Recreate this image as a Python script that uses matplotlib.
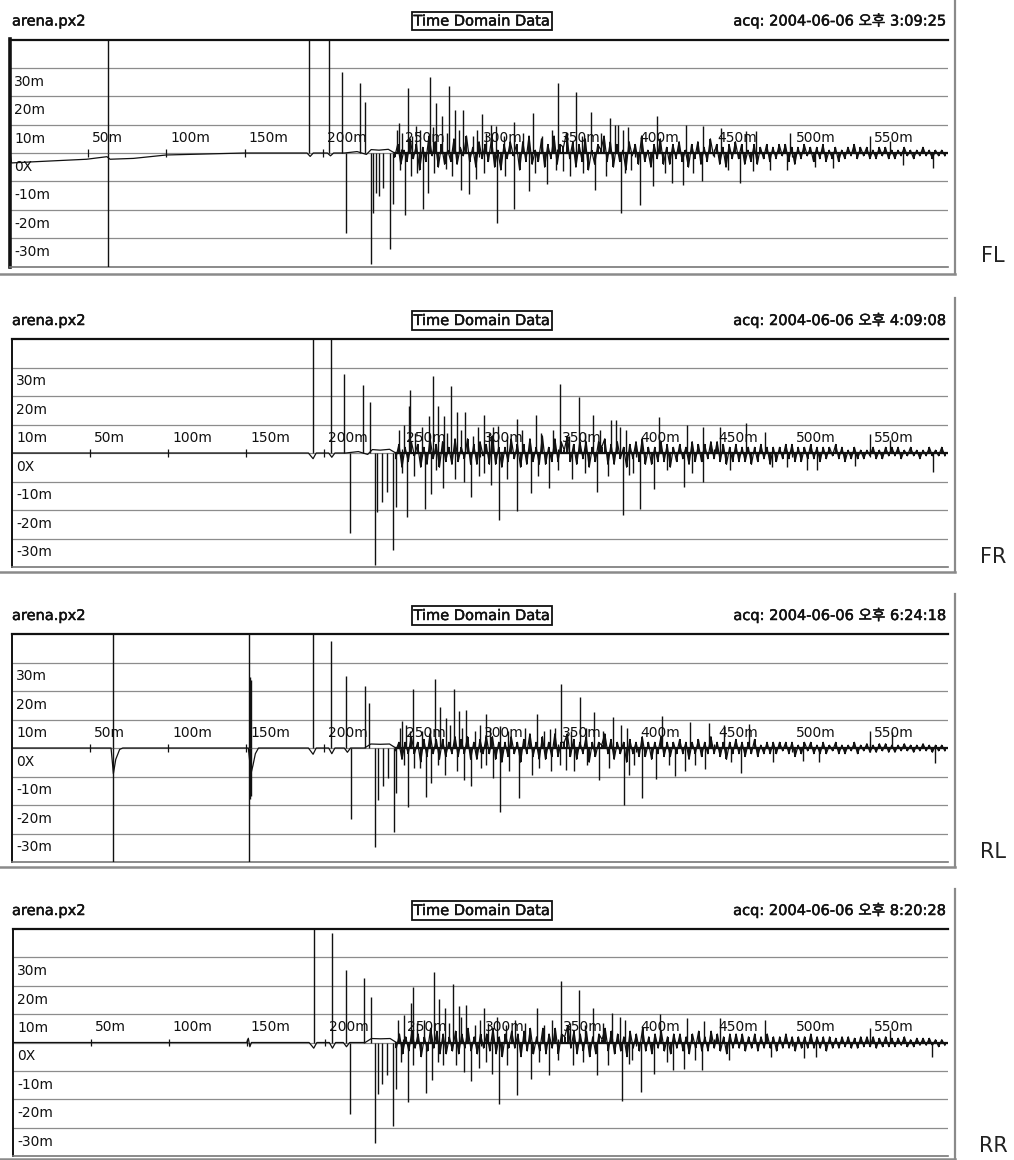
import numpy as np
import matplotlib
matplotlib.use("Agg")
import matplotlib.pyplot as plt
import matplotlib.patheffects as pe

plt.rcParams['font.family'] = ['DejaVu Sans', 'Noto Sans CJK KR']

# ---------------------------------------------------------------- data (ms, mV)
channels = ["FL", "FR", "RL", "RR"]
file_name = "arena.px2"
view_title = "Time Domain Data"
acq_stamps = ["acq: 2004-06-06 오후 3:09:25",
              "acq: 2004-06-06 오후 4:09:08",
              "acq: 2004-06-06 오후 6:24:18",
              "acq: 2004-06-06 오후 8:20:28"]

y_grid_mv = [30, 20, 10, 0, -10, -20, -30]
y_tick_labels = ["30m", "20m", "10m", "0X", "-10m", "-20m", "-30m"]
x_tick_ms = [50, 100, 150, 200, 250, 300, 350, 400, 450, 500, 550]
x_tick_labels = ["50m", "100m", "150m", "200m", "250m", "300m",
                 "350m", "400m", "450m", "500m", "550m"]

# quiet lead-in of each trace, before the reverberant tail
fl_base_ms = [0, 1, 15, 49, 62, 64, 79, 100, 126, 150, 190, 192, 194, 203, 205, 207,
              214, 222, 228, 231, 236, 242, 246]
fl_base_mv = [0, -3.5, -3.1, -2.2, -1.3, -2.2, -1.9, -0.7, -0.35, 0, 0, -1.2, 0, 0, -1.0, 0,
              0, 0.5, -0.5, 1.2, 1.0, 1.3, 0]
fr_base_ms = [0, 190, 193, 195, 203, 205, 207, 214, 222, 228, 231, 236, 242, 246]
fr_base_mv = [0, 0, -2.0, 0, 0, -1.5, 0, 0, 0.5, -0.5, 1.2, 1.0, 1.3, 0]
rl_base_ms = [0, 63.5, 65.0, 66.5, 69, 71, 151.5, 153.2, 154.5, 156, 158, 190, 193, 195,
              203, 205, 207, 213, 215, 217, 226, 230, 236, 242, 246]
rl_base_mv = [0, 0, -9, -4, -0.5, 0, 0, -9, -6, -2, 0, 0, -2.2, 0,
              0, -2, 0, 0, -1.5, 0, 0, 1.4, 1.3, 1.4, 0]
rr_base_ms = [0, 150, 151, 152, 153, 190, 193, 195, 203, 205, 207, 212, 214, 216,
              226, 230, 236, 242, 246]
rr_base_mv = [0, 0, 1.5, -1.5, 0, 0, -2.0, 0, 0, -2.0, 0, 0, -1.5, 0,
              0, 1.4, 1.3, 1.4, 0]

# dense reverberant tail, one sample every 2 ms from 246 ms
fl_tail = [-1.5, 3, -4, 1, -3, 5, -2, 3, -6, 2,
           -3, 6, -1, 4, -5, 3, -4, 1, -3, 5,
           -4, 2, -1, 6, -3, 2, -5, 4, -2, 3,
           -3, 5, -5, 1, -6, 3, -2, 4, -1, 3,
           -6, 4, -3, 6, -4, 1, -3, 5, -5, 3,
           -2, 6, -4, 3, 2, 7, -2, 4, -5, 3,
           -3, 5, -6, 1, -4, 3, 1, 6, -3, 4,
           -5, 3, -3, 1, -6, 4, -1, 3, -4, 6,
           -3, 1, -5, 3, -2, 5, -4, 2, -4, 3,
           -2, 4, -3, 1, -5, 3, -2, 4, -4, 2,
           -3, 5, -1, 3, -4, 2, -5, 3, -2, 4,
           -2, 3, -4, 1, -3, 3, -4, 2, -2, 3,
           -3, 2, -2, 3, -1, 3, -3, 2, -4, 2,
           -2, 3, -1, 2, -3, 2, -2, 3, -3, 1,
           -2, 2, -3, 1, -2, 2, -1, 3, -2, 2,
           -1, 2, -2, 1, -2, 2, -1, 2, -2, 1,
           -2, 1, -1, 2, -1, 1, -2, 1, -1, 2,
           -1, 1, -2, 1, -1, 1, -1]
fr_tail = [-2, 3, -5, 2, -3, 4, -1, 3, -5, 2,
           -4, 5, -2, 3, -5, 4, -3, 2, -4, 5,
           -3, 2, -2, 5, -4, 3, -4, 4, -1, 3,
           -4, 6, -4, 2, -5, 2, -3, 5, -2, 3,
           -5, 3, -4, 5, -3, 2, -4, 6, -4, 2,
           -3, 5, -3, 4, 1, 6, -3, 3, -4, 4,
           -2, 4, -5, 2, -3, 4, 2, 5, -4, 3,
           -4, 4, -2, 2, -5, 3, -2, 4, -3, 5,
           -4, 2, -4, 2, -3, 4, -3, 3, -5, 2,
           -3, 3, -2, 2, -4, 4, -3, 3, -3, 3,
           -2, 4, -2, 4, -3, 3, -4, 2, -3, 3,
           -3, 2, -3, 2, -4, 2, -3, 3, -2, 2,
           -4, 2, -3, 2, -2, 3, -2, 3, -3, 2,
           -3, 2, -2, 3, -2, 2, -3, 2, -2, 2,
           -1, 3, -2, 2, -3, 1, -2, 2, -2, 1,
           -2, 1, -1, 2, -2, 1, -2, 2, -1, 2,
           -1, 2, -2, 1, -1, 2, -1, 1, -2, 1,
           -1, 2, -1, 1, -1, 2, -1]
rl_tail = [-1, 2, -4, 2, -2, 4, -2, 2, -5, 3,
           -3, 5, -2, 3, -4, 3, -3, 2, -2, 4,
           -3, 3, -2, 4, -4, 2, -4, 3, -2, 4,
           -2, 4, -4, 2, -5, 2, -3, 4, -2, 2,
           -5, 3, -2, 5, -3, 2, -4, 4, -4, 2,
           -3, 5, -3, 2, 2, 5, -3, 3, -4, 2,
           -2, 4, -5, 2, -3, 2, 1, 5, -2, 3,
           -4, 2, -2, 2, -5, 3, -2, 2, -3, 4,
           -3, 2, -4, 2, -2, 4, -3, 2, -3, 2,
           -2, 3, -2, 2, -4, 2, -2, 3, -3, 2,
           -2, 4, -2, 2, -3, 2, -4, 2, -2, 3,
           -2, 2, -3, 2, -2, 3, -3, 1, -2, 2,
           -2, 2, -2, 2, -1, 2, -2, 2, -3, 1,
           -2, 2, -1, 2, -2, 1, -2, 2, -2, 1,
           -1, 2, -2, 1, -2, 1, -1, 2, -2, 1,
           -1, 1.5, -1.5, 1, -1.5, 1.5, -1, 1.5, -1.5, 1,
           -1.5, 1, -1, 1.5, -1, 1, -1.5, 1, -1, 1.5,
           -1, 1, -1.5, 1, -1, 1, -1]
rr_tail = [-2, 3, -4, 2, -3, 4, -2, 3, -5, 2,
           -3, 5, -2, 4, -4, 3, -4, 2, -3, 4,
           -4, 3, -2, 5, -3, 2, -4, 3, -2, 3,
           -3, 5, -4, 2, -5, 3, -2, 4, -2, 3,
           -5, 4, -3, 5, -4, 2, -3, 5, -4, 3,
           -2, 5, -4, 3, 2, 6, -2, 4, -4, 3,
           -3, 4, -5, 2, -4, 3, 1, 5, -3, 4,
           -4, 3, -3, 2, -5, 4, -2, 3, -3, 5,
           -3, 2, -4, 3, -2, 4, -3, 2, -4, 3,
           -2, 3, -3, 2, -4, 3, -2, 4, -3, 2,
           -3, 4, -2, 3, -3, 2, -4, 3, -2, 3,
           -2, 3, -3, 2, -2, 3, -3, 2, -2, 3,
           -2, 2, -3, 2, -2, 3, -2, 2, -3, 2,
           -2, 2, -2, 3, -2, 2, -2, 2, -3, 2,
           -2, 1.5, -2, 2, -1.5, 2, -2, 1.5, -2, 2,
           -1.5, 2, -1.5, 2, -2, 1.5, -1.5, 2, -1.5, 1.5,
           -1.5, 1.5, -1, 2, -1.5, 1, -1.5, 1.5, -1, 1.5,
           -1, 1.5, -1, 1, -1.5, 1, -1]
tail_start_ms = 246
tail_step_ms = 2

# discrete reflections (impulse heights); |value| > 40 runs off the scale
fl_spike_ms = [62.8, 62.8, 191.0, 204.0,
               212.1, 223.6, 226.8, 249.0, 254.8, 259.7, 268.9, 272.7, 276.3, 281.0,
               284.9, 289.8, 301.9, 307.7, 310.9, 322.2, 334.4, 350.4, 362.1, 371.7,
               383.9, 386.7, 414.1, 432.6, 443.3, 455.0, 471.0, 477.4, 498.8, 550.0, 562.8,
               214.9, 230.9, 232.4, 234.1, 236.2, 238.8, 243.0, 244.8, 252.4, 260.2,
               264.0, 267.2, 278.9, 288.5, 293.8, 311.3, 322.6, 331.8, 343.3, 353.6,
               374.5, 390.9, 393.1, 402.7, 411.3, 423.7, 430.5, 442.9, 466.8, 475.4,
               496.7, 526.6, 571.4, 590.6,
               247.5, 250.5, 257.0, 262.0, 270.5, 279.5, 287.0, 296.0, 298.5, 304.5,
               316.0, 328.0, 340.0, 347.0, 356.0, 366.0, 378.0, 389.0, 392.0, 395.5,
               249.5, 256.5, 271.0, 283.0, 298.0, 303.0, 316.5, 336.0, 349.0, 358.0,
               366.5, 381.0, 397.0, 419.0, 437.0, 459.0, 486.0, 515.0]
fl_spike_mv = [60, -60, 60, 60,
               28.4, 24.8, 17.8, 10.5, 23.0, 9.4, 26.9, 17.5, 13.1, 23.7,
               15.2, 15.2, 13.8, 9.9, 9.4, 11.1, 14.0, 24.8, 21.4, 14.6,
               12.3, 9.9, 12.9, 10.0, 9.4, 8.8, 7.6, 7.6, 7.0, 5.9, 4.1,
               -28.1, -39.2, -21.1, -14.0, -15.2, -12.3, -33.9, -18.1, -22.0, -7.0,
               -19.9, -14.0, -5.8, -12.9, -14.6, -24.6, -19.9, -13.5, -11.1, -6.4,
               -12.9, -21.1, -7.0, -18.2, -11.8, -10.6, -11.2, -10.0, -10.4, -6.5,
               -5.9, -5.3, -4.1, -5.3,
               8.0, 7.0, 6.0, 8.0, 9.0, 7.0, 8.0, 6.0, 8.0, 7.0,
               6.0, 7.0, 6.0, 8.0, 7.0, 6.0, 7.0, 10.0, 8.0, 9.0,
               -6.0, -8.0, -7.0, -8.0, -9.0, -7.0, -8.0, -7.0, -6.0, -8.0,
               -7.0, -8.0, -6.0, -7.0, -7.0, -6.0, -6.0, -5.0]

fr_spike_ms = [192.7, 204.3,
               212.7, 224.9, 229.2, 251.2, 254.4, 255.4, 267.2, 269.9, 273.1, 276.8,
               281.7, 285.3, 290.2, 302.4, 308.1, 311.5, 323.7, 335.9, 351.0, 363.2,
               372.2, 384.1, 387.4, 414.5, 432.6, 442.9, 454.0, 470.6, 482.8, 550.1, 562.9,
               216.6, 232.4, 234.1, 237.3, 240.1, 244.1, 246.2, 253.3, 265.0, 268.9,
               276.3, 289.6, 294.3, 307.1, 312.0, 323.9, 332.7, 344.0, 374.9, 391.4,
               395.2, 402.7, 411.7, 430.5, 442.9, 496.7, 509.5, 540.4, 590.6,
               248.0, 258.5, 263.0, 279.0, 288.0, 295.5, 299.0, 305.5, 317.0, 327.0,
               339.0, 346.5, 357.0, 367.5, 377.0, 390.0, 393.5,
               250.0, 257.5, 272.0, 284.0, 299.5, 302.5, 317.5, 337.0, 350.0, 359.0,
               367.0, 382.0, 398.0, 420.0, 436.0, 460.0, 487.0, 516.0]
fr_spike_mv = [60, 60,
               27.7, 23.8, 17.8, 9.7, 16.6, 22.2, 12.9, 27.1, 16.6, 13.1,
               23.4, 14.3, 14.3, 13.4, 9.1, 9.4, 12.0, 13.4, 24.2, 19.5,
               13.4, 11.7, 11.5, 12.7, 9.8, 9.2, 9.2, 10.4, 7.4, 6.6, 4.5,
               -27.9, -39.2, -20.6, -17.1, -13.6, -34.0, -18.8, -22.3, -19.7, -14.5,
               -12.4, -10.1, -15.3, -11.3, -23.5, -20.2, -14.2, -12.4, -13.8, -21.7,
               -7.8, -19.6, -12.6, -12.0, -10.2, -4.9, -5.9, -4.4, -6.7,
               8.0, 7.0, 9.0, 7.0, 8.0, 6.0, 9.0, 7.0, 6.0, 8.0,
               7.0, 8.0, 6.0, 7.0, 8.0, 9.0, 8.0,
               -7.0, -8.0, -6.0, -9.0, -8.0, -7.0, -9.0, -8.0, -6.0, -9.0,
               -7.0, -8.0, -7.0, -6.0, -7.0, -6.0, -5.0, -6.0]

rl_spike_ms = [64.7, 64.7, 152.0, 152.0, 152.5, 152.5, 152.9, 152.9, 193.1, 204.8,
               214.2, 226.0, 229.0, 250.1, 255.0, 257.1, 271.0, 274.6, 278.3, 283.2,
               286.8, 291.3, 303.9, 313.0, 336.5, 345.1, 352.1, 364.3, 373.2, 385.2,
               416.7, 434.8, 446.6, 456.2, 472.2, 550.1, 564.0,
               217.0, 232.6, 234.7, 237.7, 240.9, 244.8, 246.2, 253.7, 261.4, 265.7,
               268.9, 277.8, 289.6, 294.5, 308.3, 312.6, 324.8, 333.3, 345.5, 355.3,
               376.0, 392.0, 395.2, 404.0, 412.8, 424.9, 431.3, 444.1, 467.6, 507.1, 591.4,
               248.5, 252.5, 262.5, 268.0, 280.5, 288.5, 297.0, 300.0, 306.5, 318.0,
               329.0, 341.0, 348.0, 358.5, 368.0, 379.0, 390.5, 394.0,
               251.0, 258.0, 273.0, 285.0, 300.5, 304.0, 318.5, 338.0, 351.0, 360.0,
               368.5, 383.0, 399.0, 421.0, 438.0, 461.0, 488.0, 517.0]
rl_spike_mv = [60, -60, 60, -60, 25, -18, 24, -17, 60, 37.5,
               25.3, 21.8, 15.9, 9.6, 5.9, 20.6, 24.1, 14.4, 10.6, 20.6,
               12.9, 13.2, 11.8, 7.6, 11.8, 6.5, 22.4, 18.0, 12.7, 10.8,
               11.4, 9.1, 8.8, 7.9, 8.5, 6.1, 5.5,
               -24.9, -34.7, -18.2, -13.5, -10.6, -29.6, -15.9, -20.6, -7.1, -17.1,
               -12.4, -9.4, -11.2, -13.5, -10.6, -22.4, -17.6, -9.4, -8.2, -7.6,
               -11.2, -20.0, -9.4, -17.4, -10.9, -9.8, -8.0, -7.4, -8.6, -4.5, -5.1,
               7.0, 8.0, 6.0, 7.0, 8.0, 7.0, 6.0, 8.0, 7.0, 6.0,
               7.0, 6.0, 7.0, 6.0, 7.0, 6.0, 8.0, 7.0,
               -6.0, -7.0, -6.0, -8.0, -7.0, -6.0, -8.0, -7.0, -6.0, -8.0,
               -6.0, -7.0, -6.0, -6.0, -6.0, -5.0, -5.0, -5.0]

rr_spike_ms = [193.0, 205.0,
               213.8, 225.5, 229.8, 251.2, 255.4, 256.5, 270.4, 273.6, 277.2, 282.1,
               285.9, 290.6, 302.4, 336.1, 351.5, 363.4, 372.2, 384.1, 415.2, 432.6,
               443.3, 454.0, 482.8, 550.1, 562.9,
               216.4, 232.4, 234.1, 236.9, 240.1, 244.1, 245.8, 253.3, 265.0, 268.9,
               276.1, 289.6, 293.8, 307.7, 312.0, 323.7, 332.7, 344.0, 374.5, 390.9,
               395.2, 402.7, 411.3, 423.7, 430.5, 442.3, 507.4, 589.5,
               247.0, 259.0, 263.5, 279.5, 287.5, 296.5, 299.5, 305.0, 310.5, 316.5,
               322.0, 328.5, 340.5, 346.0, 357.5, 367.0, 378.5, 389.5, 393.0,
               249.0, 257.0, 272.5, 284.5, 299.0, 303.5, 317.0, 337.5, 349.5, 359.5,
               366.0, 381.5, 397.5, 419.5, 437.5, 459.5, 486.5, 515.5]
rr_spike_mv = [60, 38.5,
               25.7, 22.7, 16.1, 9.6, 14.0, 19.6, 25.0, 15.5, 12.3, 20.6,
               12.9, 13.2, 12.3, 12.0, 21.8, 18.5, 12.3, 10.5, 10.1, 8.7,
               7.5, 8.7, 8.1, 5.1, 4.5,
               -25.2, -35.4, -18.1, -14.5, -11.5, -29.6, -16.3, -20.8, -17.7, -13.3,
               -8.0, -10.4, -13.7, -11.0, -21.7, -18.5, -12.7, -11.5, -11.5, -20.5,
               -7.7, -17.3, -11.0, -9.8, -9.4, -9.8, -5.6, -5.0,
               8.0, 7.0, 8.0, 7.0, 9.0, 6.0, 8.0, 7.0, 9.0, 6.0,
               8.0, 7.0, 6.0, 8.0, 7.0, 6.0, 7.0, 9.0, 8.0,
               -7.0, -8.0, -7.0, -8.0, -9.0, -7.0, -8.0, -7.0, -6.0, -8.0,
               -7.0, -8.0, -6.0, -7.0, -6.0, -6.0, -5.0, -5.0]

traces = [
    (fl_base_ms, fl_base_mv, fl_tail, fl_spike_ms, fl_spike_mv),
    (fr_base_ms, fr_base_mv, fr_tail, fr_spike_ms, fr_spike_mv),
    (rl_base_ms, rl_base_mv, rl_tail, rl_spike_ms, rl_spike_mv),
    (rr_base_ms, rr_base_mv, rr_tail, rr_spike_ms, rr_spike_mv),
]

# ---------------------------------------------------------------- layout (pixels)
W, H = 1014, 1160
boxes = [(10, 39.5, 948, 266.5), (12, 339, 948, 567),
         (12, 634, 948, 862), (13, 929, 948, 1156)]
frames = [(0, 274), (298, 572), (594, 867), (889, 1159)]

fig = plt.figure(figsize=(W / 100, H / 100), dpi=100)
fig.patch.set_facecolor("white")

overlay = fig.add_axes([0, 0, 1, 1], zorder=5)
overlay.set_xlim(0, W)
overlay.set_ylim(H, 0)
overlay.axis("off")
overlay.patch.set_alpha(0)

ink = "#111111"
grid_c = "#8c8c8c"
font_hdr = 10.5
font_lbl = 10
heavy = [pe.withStroke(linewidth=0.35, foreground=ink)]

for i, (left, top, right, bottom) in enumerate(boxes):
    ax = fig.add_axes([left / W, 1 - bottom / H, (right - left) / W, (bottom - top) / H])
    ax.set_xlim(0, 600)
    ax.set_ylim(-40, 40)
    ax.set_xticks([])
    ax.set_yticks([])
    ax.spines["right"].set_visible(False)
    ax.spines["top"].set_linewidth(1.6)
    ax.spines["top"].set_color(ink)
    ax.spines["left"].set_linewidth(2.6 if i == 0 else 1.4)
    ax.spines["left"].set_color(ink)
    ax.spines["bottom"].set_linewidth(1.2)
    ax.spines["bottom"].set_color("#777777")

    for v in y_grid_mv:
        ax.axhline(v, color=grid_c, lw=0.9, zorder=1)
    ax.vlines(x_tick_ms, -1.3, 1.3, color=ink, lw=0.9, zorder=2)

    for v, lab in zip(y_grid_mv, y_tick_labels):
        ax.text(2.8, v - 4.9, lab, ha="left", va="center", fontsize=font_lbl,
                color=ink, zorder=2)
    for t, lab in zip(x_tick_ms, x_tick_labels):
        ax.text(t + 2.6, 5.3, lab, ha="left", va="center", fontsize=font_lbl,
                color=ink, zorder=2)

    base_ms, base_mv, tail, spk_ms, spk_mv = traces[i]
    tail_ms = tail_start_ms + tail_step_ms * np.arange(len(tail))
    t_all = np.concatenate([base_ms, tail_ms])
    v_all = np.concatenate([base_mv, tail])
    # trace line, each tail sample as a stroke from the baseline, then reflections
    ax.plot(t_all, v_all, color=ink, lw=0.9, zorder=3)
    ax.vlines(tail_ms, 0, tail, color=ink, lw=1.4, zorder=3)
    ax.axhline(0, xmin=tail_start_ms / 600, xmax=1, color=ink, lw=1.6, zorder=3)
    ax.vlines(spk_ms, 0, spk_mv, color=ink, lw=1.0, zorder=3)

    # header row
    hy = top - 18.5
    overlay.text(12, hy, file_name, ha="left", va="center", fontsize=font_hdr, color=ink,
                 path_effects=heavy)
    overlay.text(482, hy, view_title, ha="center", va="center", fontsize=font_hdr, color=ink,
                 path_effects=heavy,
                 bbox=dict(boxstyle="square,pad=0.12", fc="white", ec=ink, lw=1.3))
    overlay.text(947, hy, acq_stamps[i], ha="right", va="center", fontsize=font_hdr, color=ink,
                 path_effects=heavy)

    # window frame and channel tag
    f_top, f_bot = frames[i]
    overlay.plot([955, 955], [f_top, f_bot], color="#8a8a8a", lw=1.6)
    overlay.plot([0, 955], [f_bot, f_bot], color="#8a8a8a", lw=1.8)
    overlay.text(993, bottom - 10, channels[i], ha="center", va="center",
                 fontsize=15, color="#222222")

fig.savefig("out.png", dpi=100, facecolor="white")
